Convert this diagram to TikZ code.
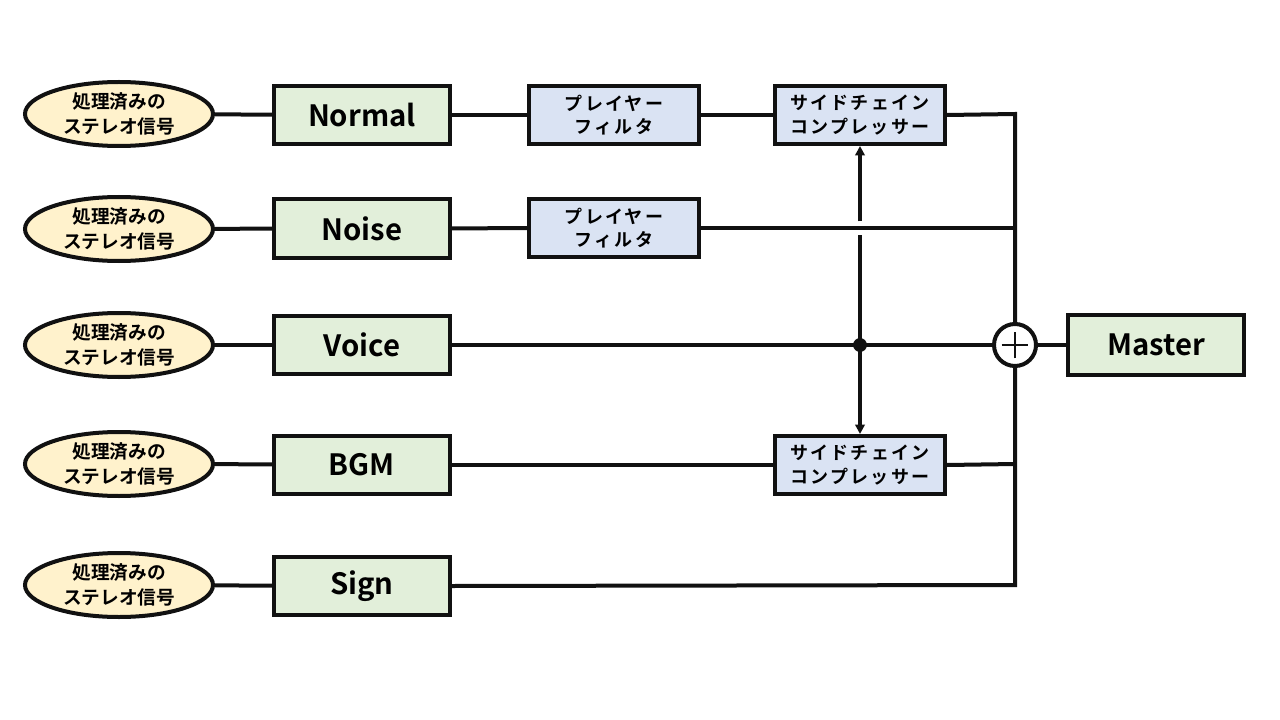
\documentclass[tikz,border=0pt]{standalone}
\usepackage{fontspec}
\setmainfont{Noto Sans CJK JP}[BoldFont={Noto Sans CJK JP Bold}]
\usetikzlibrary{arrows.meta,shapes.geometric}
\definecolor{edge}{HTML}{111111}
\definecolor{gfill}{HTML}{E2EFDA}
\definecolor{bfill}{HTML}{DAE3F3}
\definecolor{yfill}{HTML}{FFF2CC}
\tikzset{
  wire/.style={draw=edge, line width=3pt},
  src/.style={ellipse, draw=edge, line width=3pt, fill=yfill, minimum width=141pt, minimum height=48pt, inner sep=0pt, align=center, font=\fontsize{14pt}{18.5pt}\selectfont\bfseries},
  chan/.style={rectangle, draw=edge, line width=3pt, fill=gfill, minimum width=132pt, minimum height=43.5pt, inner sep=0pt, font=\fontsize{22pt}{26pt}\selectfont\bfseries},
  proc/.style={rectangle, draw=edge, line width=3pt, fill=bfill, minimum width=127.5pt, minimum height=43.5pt, inner sep=0pt, align=center, font=\fontsize{13.5pt}{17.5pt}\selectfont\bfseries\addfontfeature{LetterSpace=12}},
  sumnode/.style={circle, draw=edge, line width=3pt, fill=white, minimum size=31.5pt, inner sep=0pt},
  tip/.style={-{Triangle[length=7pt,width=7pt]}},
}
\begin{document}
\begin{tikzpicture}[x=0.75pt,y=-0.75pt]
\useasboundingbox (0,0) rectangle (1280,720);
% sources
\foreach \n/\y in {1/114,2/229,3/345,4/464,5/585}{
  \node[src] (s\n) at (119,\y) {処理済みの\\ステレオ信号};
}
\node[chan] (normal) at (362,115) {Normal};
\node[chan] (noise) at (362,228.5) {Noise};
\node[chan] (voice) at (362,345) {Voice};
\node[chan] (bgm) at (362,464.5) {BGM};
\node[chan] (sign) at (362,586) {Sign};
\node[proc] (pf1) at (614,115) {プレイヤー\\フィルタ};
\node[proc] (pf2) at (614,228) {プレイヤー\\フィルタ};
\node[proc] (sc1) at (860,115) {サイドチェイン\\コンプレッサー};
\node[proc] (sc2) at (860,465) {サイドチェイン\\コンプレッサー};
\node[sumnode] (sum) at (1015,345) {};
\draw[line width=1.5pt, draw=edge] ([xshift=-10pt]sum.center) -- ([xshift=10pt]sum.center)
  ([yshift=-10pt]sum.center) -- ([yshift=10pt]sum.center);
\node[chan, minimum height=45pt] (master) at (1156,345) {Master};
% source to channel
\foreach \n/\c in {1/normal,2/noise,3/voice,4/bgm,5/sign}{
  \draw[wire] (s\n) -- (\c);
}
\coordinate (bus1) at (1015,114);
\coordinate (bus2) at (1015,228);
\coordinate (bus4) at (1015,464);
\coordinate (bus5) at (1015,585);
\coordinate (dot) at (860,345);
\coordinate (gapb) at (860,235);
\coordinate (gapt) at (860,221.5);
% row 1
\draw[wire] (normal) -- (pf1);
\draw[wire] (pf1) -- (sc1);
\draw[wire] (sc1.east) -- (bus1) -- (sum.north);
% row 2
\draw[wire] (noise) -- (pf2);
\draw[wire] (pf2.east) -- (bus2);
% row 3
\draw[wire] (voice) -- (sum);
\draw[wire] (sum) -- (master);
% row 4
\draw[wire] (bgm.east) -- (sc2.west |- bgm.east);
\draw[wire] (sc2.east) -- (bus4);
% row 5
\draw[wire] (sign.east) -- (bus5) -- (sum.south);
% sidechain feed
\draw[wire] (dot) -- (gapb);
\draw[wire, tip] (gapt) -- (sc1.south);
\draw[wire, tip] (dot) -- (sc2.north);
\fill[edge] (dot) circle (5.2pt);
\end{tikzpicture}
\end{document}
